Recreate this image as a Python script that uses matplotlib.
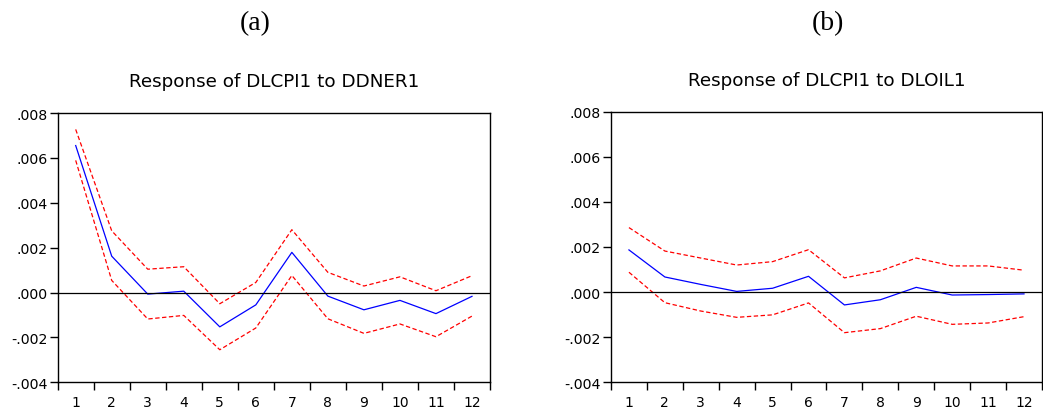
import matplotlib
matplotlib.use('Agg')
from matplotlib import pyplot as plt
from matplotlib.ticker import FuncFormatter, MultipleLocator

periods = list(range(1, 13))

# (a) response of DLCPI1 to DDNER1
ner_resp = [0.00655, 0.00162, -0.00007, 0.00006, -0.00153, -0.00055,
            0.00179, -0.00016, -0.00077, -0.00035, -0.00094, -0.00017]
ner_upper = [0.00727, 0.00275, 0.00104, 0.00115, -0.00050, 0.00045,
             0.00280, 0.00090, 0.00029, 0.00070, 0.00008, 0.00075]
ner_lower = [0.00589, 0.00054, -0.00118, -0.00102, -0.00255, -0.00158,
             0.00076, -0.00117, -0.00182, -0.00140, -0.00197, -0.00105]

# (b) response of DLCPI1 to DLOIL1
oil_resp = [0.00187, 0.00067, 0.00034, 0.00003, 0.00017, 0.00070,
            -0.00057, -0.00034, 0.00021, -0.00013, -0.00011, -0.00008]
oil_upper = [0.00286, 0.00182, 0.00151, 0.00120, 0.00135, 0.00188,
             0.00063, 0.00094, 0.00151, 0.00116, 0.00116, 0.00097]
oil_lower = [0.00088, -0.00047, -0.00084, -0.00112, -0.00101, -0.00048,
             -0.00180, -0.00162, -0.00107, -0.00143, -0.00137, -0.00109]

panels = [
    ('(a)', 'Response of DLCPI1 to DDNER1', ner_resp, ner_upper, ner_lower),
    ('(b)', 'Response of DLCPI1 to DLOIL1', oil_resp, oil_upper, oil_lower),
]


def eviews_fmt(v, pos):
    # EViews style: .008, -.002
    s = f'{v:.3f}'
    return s.replace('0.', '.', 1)


fig = plt.figure(figsize=(10.43, 4.14), dpi=100)
rects = [[0.0553, 0.0742, 0.4145, 0.6504], [0.5858, 0.0742, 0.4132, 0.6536]]
tag_x = [0.2445, 0.7939]
title_y = [0.802, 0.805]

for i, (tag, title, resp, upper, lower) in enumerate(panels):
    ax = fig.add_axes(rects[i])
    ax.plot(periods, resp, color='#0000ff', lw=0.9)
    ax.plot(periods, upper, color='#ff0000', lw=0.9, ls=(0, (3.5, 2)))
    ax.plot(periods, lower, color='#ff0000', lw=0.9, ls=(0, (3.5, 2)))
    ax.axhline(0, color='black', lw=0.9)

    ax.set_xlim(0.5, 12.5)
    ax.set_ylim(-0.004, 0.008)
    ax.yaxis.set_major_locator(MultipleLocator(0.002))
    ax.yaxis.set_major_formatter(FuncFormatter(eviews_fmt))
    ax.set_xticks(periods)
    ax.set_xticks([p + 0.5 for p in range(0, 13)], minor=True)
    ax.tick_params(axis='x', which='major', length=0, pad=9, labelsize=10)
    ax.tick_params(axis='x', which='minor', length=6, width=1, direction='out')
    ax.tick_params(axis='y', length=5.5, width=1, direction='out', labelsize=10.2, pad=2)
    for sp in ax.spines.values():
        sp.set_linewidth(1.0)

    cx = rects[i][0] + rects[i][2] / 2
    fig.text(cx, title_y[i], title, fontsize=13.2, ha='center', va='center')
    fig.text(tag_x[i], 0.943, tag, fontsize=20, family='Liberation Serif',
             ha='center', va='center')

fig.savefig('out.png', dpi=100)
